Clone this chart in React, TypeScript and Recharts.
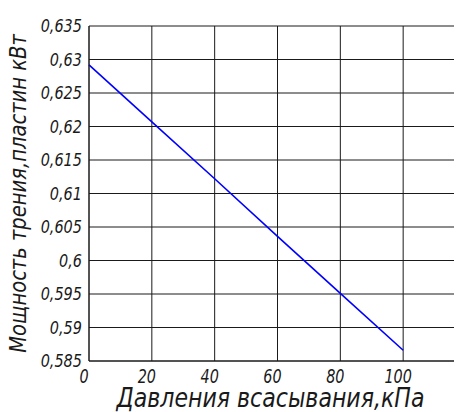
import React from "react";
import {
  LineChart,
  Line,
  XAxis,
  YAxis,
  CartesianGrid,
  Label,
} from "recharts";

// Friction power of the vanes vs suction pressure
const pressure = [0, 20, 40, 60, 80, 100];
const power = [0.6292, 0.6207, 0.6122, 0.6036, 0.5951, 0.5866];
const xTicks = [0, 20, 40, 60, 80, 100];
const yTicks = [0.585, 0.59, 0.595, 0.6, 0.605, 0.61, 0.615, 0.62, 0.625, 0.63, 0.635];

const data = pressure.map((p, i) => ({ p, w: power[i] }));

const FONT = "'DejaVu Sans', sans-serif";
const INK = "#1a1a1a";

// Russian-style decimal comma
const fmt = (v: number) => String(v).replace(".", ",");

// Condensed italic text, like the GOST drafting font of the original
const Narrow = ({
  x,
  y,
  size,
  sx,
  anchor = "middle",
  rotate = 0,
  children,
}: any) => (
  <g transform={`translate(${x}, ${y}) rotate(${rotate}) scale(${sx}, 1)`}>
    <text
      x={0}
      y={0}
      textAnchor={anchor}
      fontFamily={FONT}
      fontStyle="italic"
      fontWeight={300}
      fontSize={size}
      fill={INK}
    >
      {children}
    </text>
  </g>
);

const YTick = (props: any) => {
  const { x, y, payload } = props;
  return (
    <Narrow x={x} y={y + 6} size={17} sx={0.85} anchor="end">
      {fmt(payload.value)}
    </Narrow>
  );
};

const XTick = (props: any) => {
  const { x, y, payload } = props;
  return (
    <Narrow x={x - 5} y={y + 13} size={20} sx={0.72}>
      {payload.value}
    </Narrow>
  );
};

export default function App() {
  return (
    <div style={{ margin: "-8px 0 0 -8px", width: 470, height: 412 }}>
      <LineChart
        width={470}
        height={412}
        data={data}
        margin={{ top: 26, right: 4, left: 0, bottom: 0 }}
      >
        <CartesianGrid stroke={INK} strokeWidth={1} />
        <XAxis
          dataKey="p"
          type="number"
          domain={[0, 120]}
          ticks={xTicks}
          tick={<XTick />}
          tickLine={false}
          tickSize={0}
          tickMargin={9}
          axisLine={{ stroke: INK }}
          height={51}
        >
          <Label
            content={(p: any) => {
              const vb = p.viewBox;
              return (
                <Narrow x={vb.x + vb.width / 2 - 7} y={407} size={26} sx={0.85}>
                  Давления всасывания,кПа
                </Narrow>
              );
            }}
          />
        </XAxis>
        <YAxis
          type="number"
          domain={[0.585, 0.635]}
          ticks={yTicks}
          tick={<YTick />}
          tickLine={false}
          tickSize={0}
          tickMargin={7}
          axisLine={{ stroke: INK }}
          width={89}
        >
          <Label
            content={(p: any) => {
              const vb = p.viewBox;
              const cy = vb.y + vb.height / 2;
              return (
                <Narrow x={26} y={cy} size={23} sx={0.85} rotate={-90}>
                  Мощность трения,пластин кВт
                </Narrow>
              );
            }}
          />
        </YAxis>
        <Line
          dataKey="w"
          stroke="#0000ff"
          strokeWidth={1.6}
          dot={false}
          isAnimationActive={false}
        />
      </LineChart>
    </div>
  );
}
